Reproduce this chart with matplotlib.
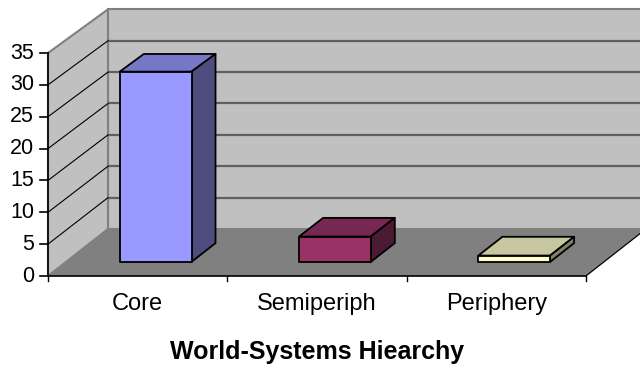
import matplotlib
matplotlib.use("Agg")
import matplotlib.pyplot as plt
from matplotlib.patches import Polygon

# Data
categories = ["Core", "Semiperiph", "Periphery"]
values = [30, 4, 1]
front_colors = ["#9999FF", "#993366", "#FFFFCC"]
y_ticks = [0, 5, 10, 15, 20, 25, 30, 35]
x_title = "World-Systems Hiearchy"

plt.rcParams["font.family"] = ["Liberation Sans", "DejaVu Sans"]

# Oblique 3D projection onto the front plane (category, value) coordinates
DX = 0.3346   # horizontal shift of the back plane, in category units
DY = 7.377    # vertical shift of the back plane, in value units
K = 0.015     # slight foreshortening of the value scale toward the back
VMAX = 35
NCAT = len(categories)


def proj(c, v, d):
    return (c + DX * d, v * (1 - K * d) + DY * d)


def poly(pts, **kw):
    return Polygon([proj(*p) for p in pts], closed=True, **kw)


def shade(hexcol, f):
    r, g, b = matplotlib.colors.to_rgb(hexcol)
    return (r * f, g * f, b * f)


fig = plt.figure(figsize=(6.4, 3.68), dpi=100)
ax = fig.add_axes([0, 0, 1, 1])
ax.axis("off")
px_c = 179.3   # pixels per category
px_v = 6.371   # pixels per value unit
ax.set_xlim(-48 / px_c, (640 - 48) / px_c)
ax.set_ylim((276 - 368) / px_v, 276 / px_v)

wall = "#C0C0C0"
edge_grey = "#808080"

# Back wall
ax.add_patch(poly([(0, 0, 1), (NCAT, 0, 1), (NCAT, VMAX, 1), (0, VMAX, 1)],
                  facecolor=wall, edgecolor=edge_grey, lw=1.5, zorder=1))
# Left side wall
ax.add_patch(poly([(0, 0, 0), (0, 0, 1), (0, VMAX, 1), (0, VMAX, 0)],
                  facecolor=wall, edgecolor=edge_grey, lw=1.5, zorder=1))

# Gridlines on the walls
for v in y_ticks[1:-1]:
    xs, ys = zip(proj(0, v, 1), proj(NCAT, v, 1))
    ax.plot(xs, ys, color="#606060", lw=1.6, zorder=2, solid_capstyle="butt")
    xs, ys = zip(proj(0, v, 0), proj(0, v, 1))
    ax.plot(xs, ys, color="black", lw=0.8, zorder=2)

# Floor
ax.add_patch(poly([(0, 0, 0), (NCAT, 0, 0), (NCAT, 0, 1), (0, 0, 1)],
                  facecolor="#808080", edgecolor="none", zorder=3))
xs, ys = zip(proj(NCAT, 0, 0), proj(NCAT, 0, 1))
ax.plot(xs, ys, color="black", lw=0.9, zorder=3)

# Axes lines and ticks
xs, ys = zip(proj(0, 0, 0), proj(NCAT, 0, 0))
ax.plot(xs, ys, color="black", lw=1.2, zorder=4)
xs, ys = zip(proj(0, 0, 0), proj(0, VMAX, 0))
ax.plot(xs, ys, color="black", lw=1.2, zorder=4)
for v in y_ticks:
    x0, y0 = proj(0, v, 0)
    ax.plot([x0 - 8 / px_c, x0], [y0, y0], color="black", lw=1.2, zorder=4)
    ax.annotate(str(v), (x0, y0), xytext=(-14, 0), textcoords="offset pixels",
                ha="right", va="center", fontsize=15.5, color="black")
for i in range(NCAT + 1):
    x0, y0 = proj(i, 0, 0)
    ax.plot([x0, x0], [y0, y0 - 5 / px_v], color="black", lw=1.0, zorder=4)

# Category labels and axis title
for i, name in enumerate(categories):
    x0, y0 = proj(i + 0.5, 0, 0)
    ax.annotate(name, (x0, y0), xytext=(0, -28), textcoords="offset pixels",
                ha="center", va="center", fontsize=17, color="black")
x0, y0 = proj(NCAT / 2, 0, 0)
ax.annotate(x_title, (x0, y0), xytext=(0, -76), textcoords="offset pixels",
            ha="center", va="center", fontsize=18, fontweight="bold", color="black")

# Bars
c0, c1 = 0.3, 0.7
d0, d1 = 0.3, 0.7
for i, (val, col) in enumerate(zip(values, front_colors)):
    a, b = i + c0, i + c1
    kw = dict(edgecolor="black", lw=1.3, joinstyle="round", zorder=5)
    # top
    ax.add_patch(poly([(a, val, d0), (b, val, d0), (b, val, d1), (a, val, d1)],
                      facecolor=shade(col, 0.78), **kw))
    # right side
    ax.add_patch(poly([(b, 0, d0), (b, 0, d1), (b, val, d1), (b, val, d0)],
                      facecolor=shade(col, 0.5), **kw))
    # front
    ax.add_patch(poly([(a, 0, d0), (b, 0, d0), (b, val, d0), (a, val, d0)],
                      facecolor=col, **kw))

fig.savefig("out.png", dpi=100, facecolor="white")
